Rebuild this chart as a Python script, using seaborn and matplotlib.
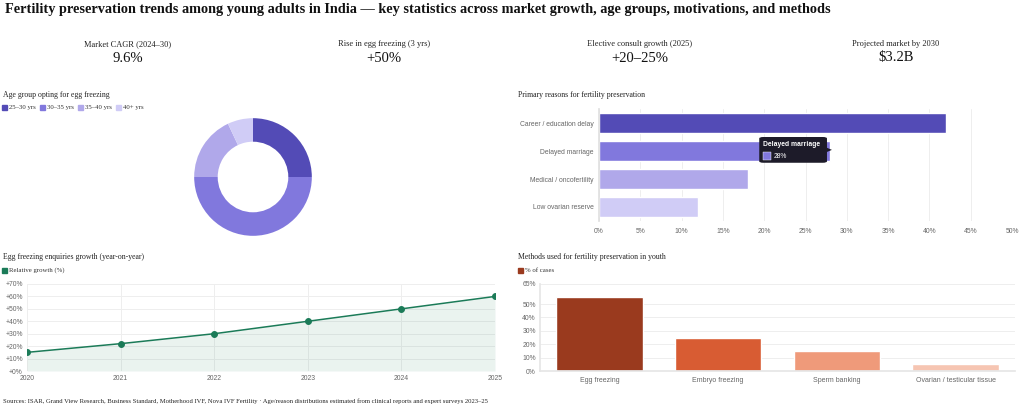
import matplotlib
matplotlib.use('Agg')
import matplotlib.pyplot as plt
import seaborn as sns
from matplotlib.patches import Rectangle, FancyBboxPatch, Polygon

sns.set_theme(style='white')
plt.rcParams['font.family'] = ['Liberation Serif', 'DejaVu Serif']

# ---- data ----
kpi_labels = ['Market CAGR (2024–30)', 'Rise in egg freezing (3 yrs)',
              'Elective consult growth (2025)', 'Projected market by 2030']
kpi_values = ['9.6%', '+50%', '+20–25%', '$3.2B']

age_groups = ['25–30 yrs', '30–35 yrs', '35–40 yrs', '40+ yrs']
age_share = [25, 50, 18, 7]

reasons = ['Career / education delay', 'Delayed marriage',
           'Medical / oncofertility', 'Low ovarian reserve']
reason_share = [42, 28, 18, 12]

years = [2020, 2021, 2022, 2023, 2024, 2025]
growth = [15, 22, 30, 40, 50, 60]

methods = ['Egg freezing', 'Embryo freezing', 'Sperm banking',
           'Ovarian / testicular tissue']
method_share = [55, 25, 15, 5]

purples = ['#534bb6', '#8178dd', '#b0a8ea', '#d0ccf6']
oranges = ['#9a3a1e', '#d85c33', '#ef9a7a', '#f6c5b2']
green = '#1b7b58'
grey = '#666666'
gridc = '#eeeeee'
sans = 'Liberation Sans'

W, H = 1024, 408
fig = plt.figure(figsize=(W / 100, H / 100), dpi=100)


def box(l, t, r, b):
    return [l / W, 1 - b / H, (r - l) / W, (b - t) / H]


def ftext(x, y, s, **kw):
    fig.text(x / W, 1 - y / H, s, **kw)


def swatch(x, y, c, size=6):
    fig.patches.append(Rectangle((x / W, 1 - (y + size / 2) / H), size / W, size / H,
                                 transform=fig.transFigure, color=c, figure=fig))


# title + KPIs
ftext(5, 10, 'Fertility preservation trends among young adults in India — key statistics '
      'across market growth, age groups, motivations, and methods',
      fontsize=10.3, fontweight='bold', va='center', color='#111111')
for i, (lab, val) in enumerate(zip(kpi_labels, kpi_values)):
    cx = 128 + 256 * i
    ftext(cx, 44, lab, fontsize=6, ha='center', va='center', color='#222222')
    ftext(cx, 58, val, fontsize=10.5, ha='center', va='center', color='#111111')

# panel titles and legends
ftext(3, 95, 'Age group opting for egg freezing', fontsize=5.6, va='center', color='#222222')
ftext(518, 95, 'Primary reasons for fertility preservation', fontsize=5.6, va='center', color='#222222')
ftext(3, 257, 'Egg freezing enquiries growth (year-on-year)', fontsize=5.6, va='center', color='#222222')
ftext(518, 257, 'Methods used for fertility preservation in youth', fontsize=5.6, va='center', color='#222222')

for i, (g, c) in enumerate(zip(age_groups, purples)):
    x0 = 2 + 38 * i
    swatch(x0, 108, c, 5)
    ftext(x0 + 7, 108, g, fontsize=4.9, va='center', color='#333333')
swatch(2, 270, green, 5)
ftext(9, 270, 'Relative growth (%)', fontsize=4.9, va='center', color='#333333')
swatch(518, 270, oranges[0], 5)
ftext(525, 270, '% of cases', fontsize=4.9, va='center', color='#333333')

ftext(3, 401, 'Sources: ISAR, Grand View Research, Business Standard, Motherhood IVF, Nova IVF Fertility · '
      'Age/reason distributions estimated from clinical reports and expert surveys 2023–25',
      fontsize=4.8, va='center', color='#222222')

# donut
ax1 = fig.add_axes(box(193, 117, 313, 237))
ax1.pie(age_share, colors=purples, startangle=90, counterclock=False,
        wedgeprops=dict(width=0.4, linewidth=0))
ax1.set_xlim(-1.02, 1.02)
ax1.set_ylim(-1.02, 1.02)
ax1.set_axis_off()


def style_axes(ax):
    for s in ax.spines.values():
        s.set_visible(False)
    ax.tick_params(length=0, labelsize=4.9, labelcolor=grey, pad=3)
    for lab in ax.get_xticklabels() + ax.get_yticklabels():
        lab.set_family(sans)
    ax.set_xlabel('')
    ax.set_ylabel('')


# horizontal bars
ax2 = fig.add_axes(box(599, 109, 1012, 221))
sns.barplot(x=reason_share, y=reasons, hue=reasons, palette=purples, legend=False,
            width=0.72, ax=ax2, saturation=1)
ax2.set_xlim(0, 50)
ax2.set_xticks(range(0, 51, 5))
ax2.set_xticklabels([f'{v}%' for v in range(0, 51, 5)])
ax2.grid(axis='x', color=gridc, linewidth=0.7)
ax2.set_axisbelow(True)
style_axes(ax2)
ax2.spines['left'].set_visible(True)
ax2.spines['left'].set_color('#e0e0e0')
ax2.tick_params(axis='y', pad=4)
ax2.tick_params(axis='x', pad=5)

# tooltip on "Delayed marriage"
ti = reasons.index('Delayed marriage')
tv = reason_share[ti]
ax2.add_patch(FancyBboxPatch((tv - 8.6, ti - 0.5), 8.2, 0.92,
                             boxstyle='round,pad=0,rounding_size=0.5',
                             facecolor='#1d1b29', edgecolor='none', zorder=5,
                             mutation_aspect=0.1))
ax2.add_patch(Polygon([(tv - 0.45, ti - 0.12), (tv + 0.2, ti - 0.04), (tv - 0.45, ti + 0.04)],
                      closed=True, facecolor='#1d1b29', edgecolor='none', zorder=5))
ax2.text(tv - 8.1, ti - 0.24, 'Delayed marriage', fontsize=4.9, fontweight='bold',
         color='white', va='center', family=sans, zorder=6)
ax2.add_patch(Rectangle((tv - 8.1, ti + 0.04), 0.95, 0.27, facecolor=purples[1],
                        edgecolor='white', linewidth=0.3, zorder=6))
ax2.text(tv - 6.8, ti + 0.18, f'{tv}%', fontsize=4.9, color='white', va='center',
         family=sans, zorder=6)

# line chart
ax3 = fig.add_axes(box(27, 284, 495, 371))
ax3.fill_between(years, growth, color=green, alpha=0.09, linewidth=0)
sns.lineplot(x=years, y=growth, marker='o', color=green, markersize=4.2,
             linewidth=1.1, markeredgecolor=green, ax=ax3)
ax3.set_xlim(years[0], years[-1])
ax3.set_ylim(0, 70)
ax3.set_xticks(years)
ax3.set_xticklabels([str(y) for y in years])
ax3.set_yticks(range(0, 71, 10))
ax3.set_yticklabels([f'+{v}%' for v in range(0, 71, 10)])
ax3.grid(color=gridc, linewidth=0.7)
ax3.set_axisbelow(True)
style_axes(ax3)

# vertical bars
ax4 = fig.add_axes(box(540, 284, 1015, 371))
sns.barplot(x=methods, y=method_share, hue=methods, palette=oranges, legend=False,
            width=0.73, ax=ax4, saturation=1)
ax4.set_ylim(0, 65)
yt = [0, 10, 20, 30, 40, 50, 65]
ax4.set_yticks(yt)
ax4.set_yticklabels([f'{v}%' for v in yt])
ax4.grid(axis='y', color=gridc, linewidth=0.7)
ax4.set_axisbelow(True)
style_axes(ax4)
ax4.tick_params(axis='x', labelsize=5, pad=4)
ax4.spines['left'].set_visible(True)
ax4.spines['left'].set_color('#e6e6e6')
ax4.spines['bottom'].set_visible(True)
ax4.spines['bottom'].set_color('#e6e6e6')

fig.savefig('out.png', dpi=100)
